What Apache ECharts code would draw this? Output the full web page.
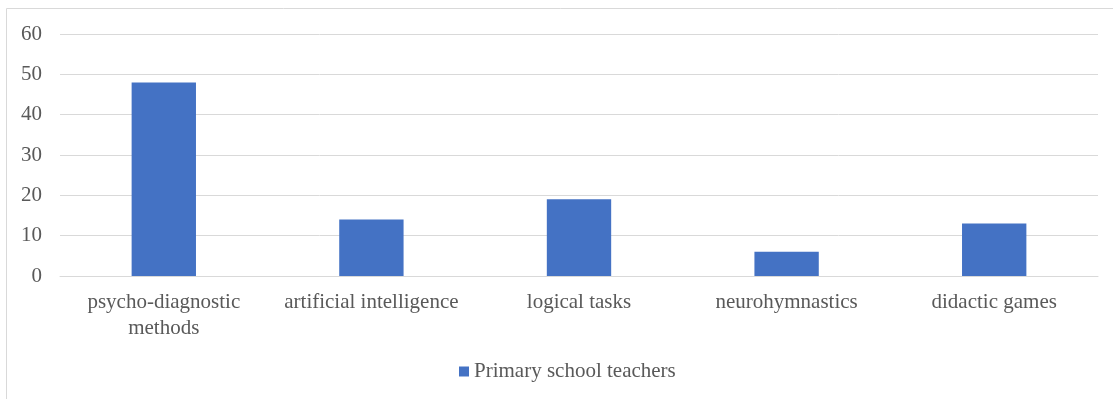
<!DOCTYPE html>
<html>
<head>
<meta charset="utf-8">
<script src="https://cdn.jsdelivr.net/npm/echarts@6/dist/echarts.min.js"></script>
<style>
  html, body { margin: 0; padding: 0; background: #fff; }
  #chart { width: 1113px; height: 399px; }
</style>
</head>
<body>
<div id="chart"></div>
<script>
const categories = ['psycho-diagnostic\nmethods', 'artificial intelligence', 'logical tasks', 'neurohymnastics', 'didactic games']
const teachers = [48, 14, 19, 6, 13]
const seriesName = 'Primary school teachers'

const chart = echarts.init(document.getElementById('chart'))
const font = '"Liberation Serif", "Times New Roman", serif'

chart.setOption({
  animation: false,
  textStyle: { fontFamily: font },
  graphic: [{
    type: 'rect',
    shape: { x: 6.5, y: 8.5, width: 1120, height: 420 },
    style: { fill: 'none', stroke: '#d9d9d9', lineWidth: 1 },
    silent: true
  }],
  grid: { left: 60, right: 15, top: 34, bottom: 123 },
  legend: {
    left: 454,
    bottom: 12,
    itemWidth: 10,
    itemHeight: 10,
    itemGap: 6,
    icon: 'rect',
    textStyle: { fontFamily: font, fontSize: 21, color: '#595959' },
    data: [seriesName]
  },
  xAxis: {
    type: 'category',
    data: categories,
    axisLine: { lineStyle: { color: '#d9d9d9', width: 1 } },
    axisTick: { show: false },
    axisLabel: { fontFamily: font, fontSize: 21, color: '#595959', margin: 13, lineHeight: 26, interval: 0 }
  },
  yAxis: {
    type: 'value',
    min: 0,
    max: 60,
    interval: 10,
    axisLine: { show: false },
    axisTick: { show: false },
    splitLine: { lineStyle: { color: '#d9d9d9', width: 1 } },
    axisLabel: { fontFamily: font, fontSize: 21, color: '#595959', margin: 18 }
  },
  series: [{
    name: seriesName,
    type: 'bar',
    data: teachers,
    barWidth: '31%',
    itemStyle: { color: '#4472c4' }
  }]
})
</script>
</body>
</html>
